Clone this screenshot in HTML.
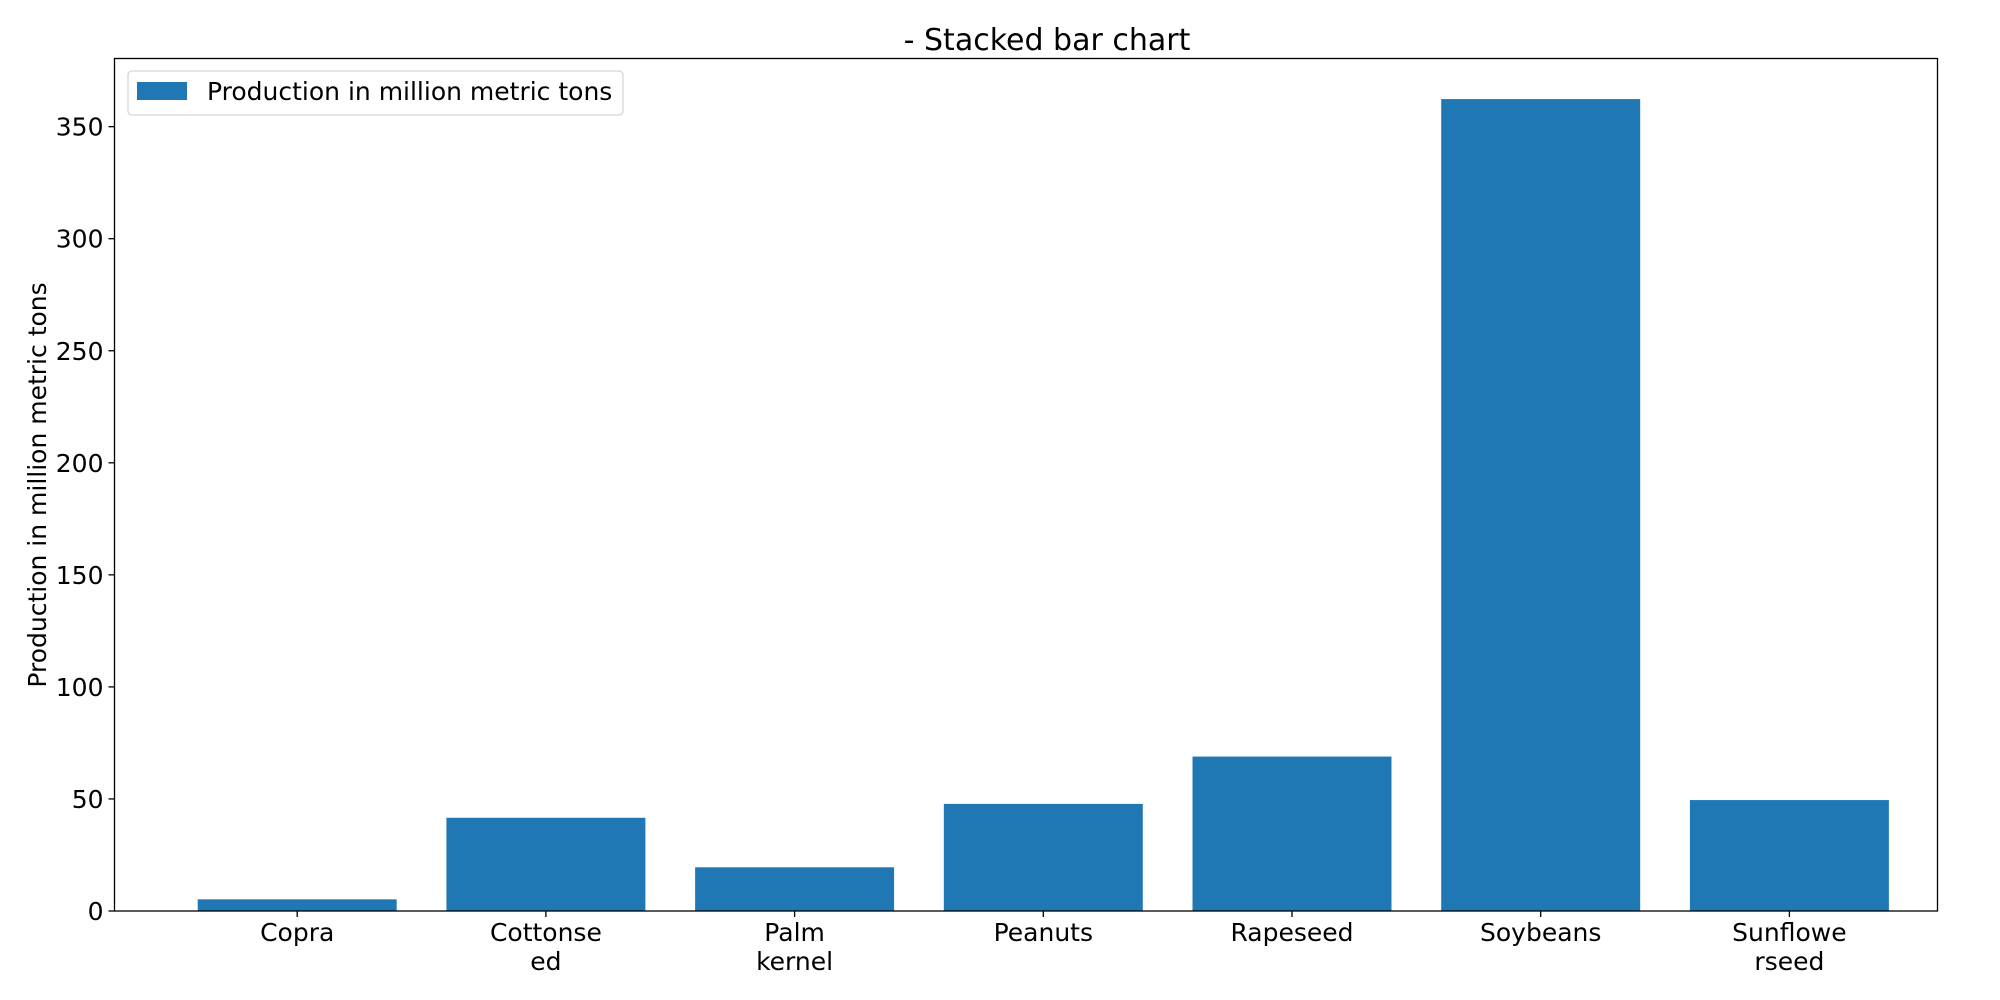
<!DOCTYPE html>
<html><head><meta charset="utf-8"><style>body{margin:0;background:#fff}svg{display:block;font-family:"DejaVu Sans","Liberation Sans",sans-serif}</style></head>
<body>
<svg id="chart" width="2000" height="1000" viewBox="0 0 2000 1000" xmlns="http://www.w3.org/2000/svg">
<rect width="2000" height="1000" fill="#fff"/>
<text x="1047" y="50" font-size="30" text-anchor="middle">- Stacked bar chart</text>
<text transform="translate(46,485) rotate(-90)" font-size="25" text-anchor="middle">Production in million metric tons</text>
<g id="bars"></g>
<g id="yticks"></g>
<g id="xticks"></g>
<rect x="114.5" y="58.5" width="1823" height="852.5" fill="none" stroke="#000" stroke-width="1.3"/>
<g>
<rect x="128" y="71" width="495" height="44" rx="4" fill="#fff" fill-opacity="0.8" stroke="#d6d6d6" stroke-width="1.3"/>
<rect x="137" y="82" width="50" height="18" fill="#1f77b4"/>
<text x="207" y="100" font-size="25">Production in million metric tons</text>
</g>
</svg>
<script>
const categories = [["Copra"],["Cottonse","ed"],["Palm","kernel"],["Peanuts"],["Rapeseed"],["Soybeans"],["Sunflowe","rseed"]];
const values = [5.2, 41.6, 19.5, 47.8, 68.9, 362.3, 49.5];
const yTicks = [0, 50, 100, 150, 200, 250, 300, 350];
const NS = "http://www.w3.org/2000/svg";
const pLeft = 114.5, pRight = 1937.5, pTop = 58.5, pBottom = 911;
const yMax = Math.max(...values) * 1.05;
const yScale = v => pBottom - v / yMax * (pBottom - pTop);
const step = 248.7, x0 = 297.2;
const xScale = i => x0 + i * step;
const bw = 0.8 * step;
const bars = document.getElementById('bars');
values.forEach((v, i) => {
  const r = document.createElementNS(NS, 'rect');
  
  
  r.setAttribute('x', xScale(i) - bw / 2);
  r.setAttribute('y', yScale(v));
  r.setAttribute('width', bw);
  r.setAttribute('height', pBottom - yScale(v));
  r.setAttribute('fill', '#1f77b4');
  bars.appendChild(r);
});
const yt = document.getElementById('yticks');
yTicks.forEach(t => {
  const l = document.createElementNS(NS, 'line');
  
  
  l.setAttribute('x1', pLeft - 6); l.setAttribute('x2', pLeft);
  l.setAttribute('y1', yScale(t)); l.setAttribute('y2', yScale(t));
  l.setAttribute('stroke', '#000'); l.setAttribute('stroke-width', '1.3');
  yt.appendChild(l);
  const tx = document.createElementNS(NS, 'text');
  
  
  tx.setAttribute('x', pLeft - 11); tx.setAttribute('y', yScale(t) + 9);
  tx.setAttribute('font-size', '25'); tx.setAttribute('text-anchor', 'end');
  tx.textContent = t;
  yt.appendChild(tx);
});
const xt = document.getElementById('xticks');
categories.forEach((c, i) => {
  const l = document.createElementNS(NS, 'line');
  
  
  l.setAttribute('x1', xScale(i)); l.setAttribute('x2', xScale(i));
  l.setAttribute('y1', pBottom); l.setAttribute('y2', pBottom + 6);
  l.setAttribute('stroke', '#000'); l.setAttribute('stroke-width', '1.3');
  xt.appendChild(l);
  c.forEach((line, j) => {
    const tx = document.createElementNS(NS, 'text');
    
    
    tx.setAttribute('x', xScale(i)); tx.setAttribute('y', 941 + j * 29);
    tx.setAttribute('font-size', '25'); tx.setAttribute('text-anchor', 'middle');
    tx.textContent = line;
    xt.appendChild(tx);
  });
});
</script>
</body></html>
